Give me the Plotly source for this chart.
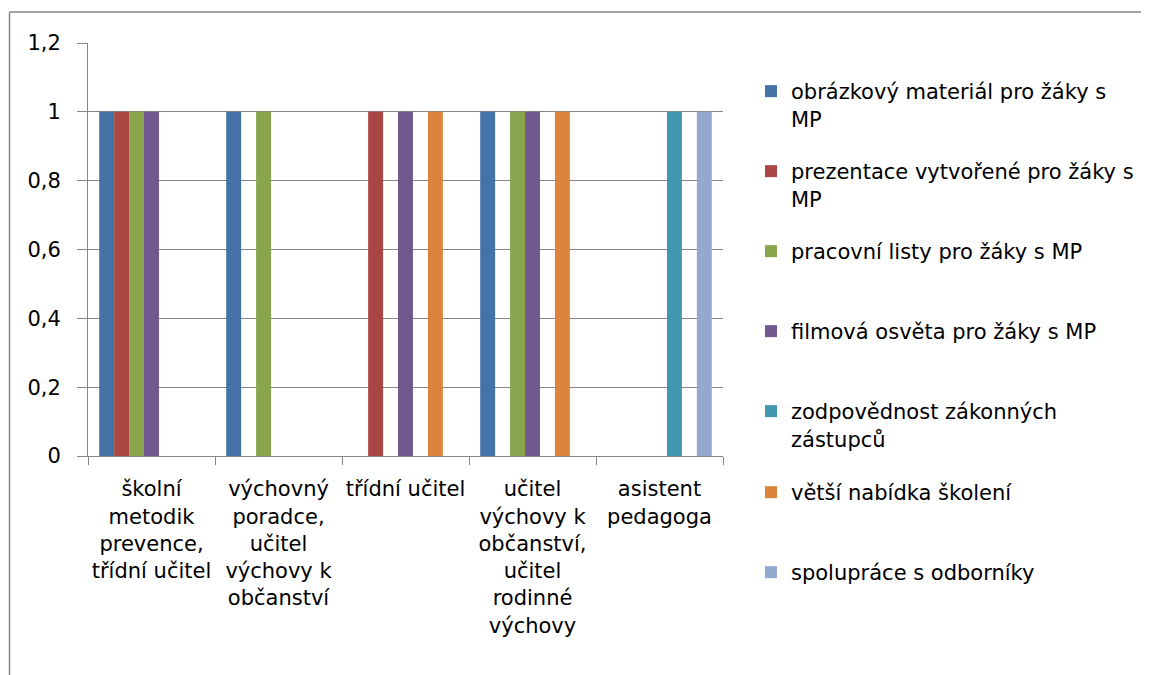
import plotly.graph_objects as go

categories = [
    "školní<br>metodik<br>prevence,<br>třídní učitel",
    "výchovný<br>poradce,<br>učitel<br>výchovy k<br>občanství",
    "třídní učitel",
    "učitel<br>výchovy k<br>občanství,<br>učitel<br>rodinné<br>výchovy",
    "asistent<br>pedagoga",
]
series_names = [
    "obrázkový materiál pro žáky s<br>MP",
    "prezentace vytvořené pro žáky s<br>MP",
    "pracovní listy pro žáky s MP",
    "filmová osvěta pro žáky s MP",
    "zodpovědnost zákonných<br>zástupců",
    "větší nabídka školení",
    "spolupráce s odborníky",
]
obrazkovy = [1, 1, 0, 1, 0]
prezentace = [1, 0, 1, 0, 0]
pracovni_listy = [1, 1, 0, 1, 0]
filmova_osveta = [1, 0, 1, 1, 0]
zodpovednost = [0, 0, 0, 0, 1]
skoleni = [0, 0, 1, 1, 0]
spoluprace = [0, 0, 0, 0, 1]
series_values = [obrazkovy, prezentace, pracovni_listy, filmova_osveta,
                 zodpovednost, skoleni, spoluprace]
colors = ["#4572A7", "#AA4643", "#89A54E", "#71588F", "#4198AF", "#DB843D", "#93A9CF"]

OFF = 8  # page body margin
W, H = 1149 - OFF, 675 - OFF
FONT = "DejaVu Sans"
FS = 21

# plot area in page pixels
PL, PR, PT, PB = 88, 723, 43, 456

fig = go.Figure()
for i, (name, vals, col) in enumerate(zip(series_names, series_values, colors)):
    lg = "legend" if i == 0 else f"legend{i+1}"
    fig.add_trace(go.Bar(x=categories, y=vals, name=name, marker_color=col,
                         marker_line_width=0, legend=lg))

legend_centers = [92, 172, 252, 332, 412, 493, 573]
layout_legends = {}
for i, c in enumerate(legend_centers):
    key = "legend" if i == 0 else f"legend{i+1}"
    top = c - 21 - OFF
    layout_legends[key] = dict(
        xref="container", yref="container",
        x=(751 - OFF) / W, y=1 - top / H, xanchor="left", yanchor="top",
        font=dict(family=FONT, size=FS, color="#000"),
        bgcolor="rgba(0,0,0,0)", valign="top",
    )

def px_x(px):
    return (px - PL) / (PR - PL)

def px_y(py):
    return (PB - py) / (PB - PT)

fig.update_layout(
    width=W, height=H, autosize=False,
    margin=dict(l=PL - OFF, r=W - (PR - OFF), t=PT - OFF, b=H - (PB - OFF)),
    paper_bgcolor="white", plot_bgcolor="white",
    separators=", ",
    barmode="group", bargap=1.5 / 8.5, bargroupgap=0,
    font=dict(family=FONT, size=FS, color="#000"),
    showlegend=True,
    **layout_legends,
    shapes=[
        dict(type="line", xref="paper", yref="paper",
             x0=px_x(9.5), x1=px_x(1160), y0=px_y(12), y1=px_y(12),
             line=dict(color="#868686", width=1.5)),
        dict(type="line", xref="paper", yref="paper",
             x0=px_x(9.5), x1=px_x(9.5), y0=px_y(12), y1=px_y(690),
             line=dict(color="#868686", width=1.5)),
    ],
)
fig.update_yaxes(range=[0, 1.2], dtick=0.2, showgrid=True, gridcolor="#868686",
                 gridwidth=1, showline=True, linecolor="#868686", linewidth=1,
                 ticks="outside", ticklen=10, tickcolor="#868686",
                 ticklabelstandoff=12, zeroline=False,
                 tickfont=dict(family=FONT, size=FS, color="#000"))
fig.update_xaxes(showline=True, linecolor="#868686", linewidth=1,
                 ticks="outside", ticklen=8, tickcolor="#868686",
                 tickson="boundaries", tickangle=0, ticklabelstandoff=14,
                 tickfont=dict(family=FONT, size=FS, color="#000"))

fig.write_html("out.html")
